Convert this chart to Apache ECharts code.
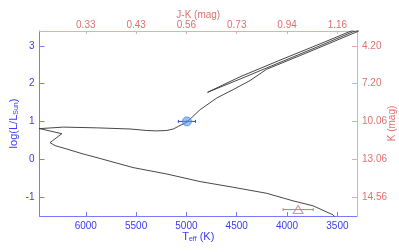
<!DOCTYPE html>
<html>
<head>
<meta charset="utf-8">
<script src="https://cdn.jsdelivr.net/npm/echarts@6/dist/echarts.min.js"></script>
<style>html,body{margin:0;padding:0;background:#fff}#c{width:399px;height:252px}</style>
</head>
<body>
<div id="c"></div>
<script>
// ---- data ----
const tempTicks = [3500, 4000, 4500, 5000, 5500, 6000];
const jkLabels = ['1.16', '0.94', '0.73', '0.56', '0.43', '0.33'];
const lumTicks = [-1, 0, 1, 2, 3];
const kLabels = ['14.56', '13.06', '10.06', '7.20', '4.20'];

const trackT = [3510, 3543, 3742, 3940, 4202, 4536, 4864, 5195, 5530, 5858, 6027, 6189, 6305, 6355, 6238, 6454, 6480,
  6454, 6223, 5891, 5560, 5394, 5300, 5195, 5130, 5080, 4996,
  4864, 4698, 4536, 4368, 4202, 3871, 3573, 3305, 3250,
  3354, 3672, 4070, 4467, 4790, 4800, 4790, 4467, 4070, 3672, 3354, 3250];
const trackL = [-1.56, -1.47, -1.23, -1.10, -0.90, -0.74, -0.59, -0.39, -0.22, 0.02, 0.14, 0.27, 0.36, 0.44, 0.675, 0.807, 0.815,
  0.81, 0.85, 0.83, 0.80, 0.76, 0.75, 0.76, 0.80, 0.87, 0.98,
  1.31, 1.62, 1.84, 2.08, 2.38, 2.74, 3.07, 3.37, 3.45,
  3.36, 3.00, 2.56, 2.12, 1.77, 1.785, 1.80, 2.18, 2.62, 3.05, 3.40, 3.52];

const obsT = [4995];
const obsL = [1.0];
const obsTerr = [85];
const obsLerr = [0.03];

const kT = [3890];
const kL = [-1.33];
const kTerr = [150];

// ---- styles ----
const BLUE = '#3a3af2';
const BLUE_LINE = '#7a7aff';
const RED = '#e07070';
const RED_LINE = '#f0a8a8';
const FONT = 'Liberation Sans, Arial, sans-serif';

const track = trackT.map((t, i) => [t, trackL[i]]);
const obs = obsT.map((t, i) => [t, obsL[i], obsTerr[i], obsLerr[i]]);
const kObs = kT.map((t, i) => [t, kL[i], kTerr[i], 0]);

function errRender(color) {
  return function (params, api) {
    const t = api.value(0), l = api.value(1), e = api.value(2), el = api.value(3);
    const a = api.coord([t - e, l]), b = api.coord([t + e, l]);
    const st = { stroke: color, lineWidth: 1 };
    const ch = [
      { type: 'line', shape: { x1: a[0], y1: a[1], x2: b[0], y2: b[1] }, style: st },
      { type: 'line', shape: { x1: a[0], y1: a[1] - 1.5, x2: a[0], y2: a[1] + 1.5 }, style: st },
      { type: 'line', shape: { x1: b[0], y1: b[1] - 1.5, x2: b[0], y2: b[1] + 1.5 }, style: st }
    ];
    if (el > 0) {
      const c = api.coord([t, l - el]), d = api.coord([t, l + el]);
      ch.push({ type: 'line', shape: { x1: c[0], y1: c[1], x2: d[0], y2: d[1] }, style: st });
    }
    return { type: 'group', children: ch };
  };
}

const chart = echarts.init(document.getElementById('c'), null, { renderer: 'canvas' });
chart.setOption({
  animation: false,
  backgroundColor: '#fff',
  textStyle: { fontFamily: FONT },
  grid: { left: 39.5, right: 42, top: 31, bottom: 36, containLabel: false, outerBoundsMode: 'none' },
  xAxis: [
    {
      type: 'value', position: 'bottom', inverse: true, min: 3305, max: 6460,
      axisLine: { onZero: false, lineStyle: { color: BLUE_LINE, width: 1 } },
      axisTick: { inside: true, length: 4, customValues: tempTicks, lineStyle: { color: BLUE_LINE } },
      axisLabel: { customValues: tempTicks, color: BLUE, fontSize: 10, margin: 5, fontFamily: FONT,
        formatter: v => String(v) },
      splitLine: { show: false },
      name: '{a|T}{s|eff}{a| (K)}', nameLocation: 'middle', nameGap: 14, nameMoveOverlap: false,
      nameTextStyle: { color: BLUE, fontFamily: FONT, rich: {
        a: { fontSize: 11, color: BLUE, fontFamily: FONT, lineHeight: 13 },
        s: { fontSize: 7, color: BLUE, fontFamily: FONT, verticalAlign: 'bottom', lineHeight: 13, padding: [4, 0, 0, 0] }
      } }
    },
    {
      type: 'value', position: 'top', inverse: true, min: 3305, max: 6460,
      axisLine: { onZero: false, lineStyle: { color: RED_LINE, width: 1 } },
      axisTick: { inside: true, length: 3, customValues: tempTicks, lineStyle: { color: RED_LINE } },
      axisLabel: { customValues: tempTicks, color: RED, fontSize: 10, margin: 1, fontFamily: FONT,
        formatter: v => jkLabels[tempTicks.indexOf(v)] },
      splitLine: { show: false },
      name: 'J-K (mag)', nameLocation: 'middle', nameGap: 11, nameMoveOverlap: false,
      nameTextStyle: { color: RED, fontSize: 10, fontFamily: FONT }
    }
  ],
  yAxis: [
    {
      type: 'value', position: 'left', min: -1.5, max: 3.39,
      axisLine: { show: true, onZero: false, lineStyle: { color: BLUE_LINE, width: 1 } },
      axisTick: { show: true, inside: true, length: 5, customValues: lumTicks, lineStyle: { color: BLUE_LINE } },
      axisLabel: { customValues: lumTicks, color: BLUE, fontSize: 10, margin: 5, fontFamily: FONT,
        formatter: v => String(v) },
      splitLine: { show: false },
      name: 'log(L/L{s|Sun})', nameLocation: 'middle', nameGap: 20, nameRotate: 90, nameMoveOverlap: false,
      nameTextStyle: { color: BLUE, fontSize: 11, fontFamily: FONT, rich: {
        s: { fontSize: 7, color: BLUE, fontFamily: FONT, verticalAlign: 'bottom', padding: [4, 0, 0, 0] }
      } }
    },
    {
      type: 'value', position: 'right', min: -1.5, max: 3.39,
      axisLine: { show: true, onZero: false, lineStyle: { color: RED_LINE, width: 1 } },
      axisTick: { show: true, inside: true, length: 5, customValues: lumTicks, lineStyle: { color: RED_LINE } },
      axisLabel: { customValues: lumTicks, color: RED, fontSize: 10, margin: 5, fontFamily: FONT,
        formatter: v => kLabels[lumTicks.indexOf(v)] },
      splitLine: { show: false },
      name: 'K (mag)', nameLocation: 'middle', nameGap: 30, nameRotate: 90, nameMoveOverlap: false,
      nameTextStyle: { color: RED, fontSize: 10, fontFamily: FONT }
    }
  ],
  series: [
    {
      type: 'line', data: track, xAxisIndex: 0, yAxisIndex: 0, showSymbol: false, symbol: 'none',
      clip: true, lineStyle: { color: '#333', width: 0.9 }, z: 2, silent: true
    },
    {
      type: 'custom', data: obs, xAxisIndex: 0, yAxisIndex: 0, renderItem: errRender(BLUE), z: 3, clip: false,
      encode: { x: 0, y: 1 }
    },
    {
      type: 'scatter', data: obs.map(d => [d[0], d[1]]), xAxisIndex: 0, yAxisIndex: 0, symbol: 'circle', symbolSize: 9,
      itemStyle: { color: 'rgba(90,150,245,0.75)', borderColor: '#3b6fe6', borderWidth: 0.8 }, z: 4
    },
    {
      type: 'custom', data: kObs, xAxisIndex: 0, yAxisIndex: 0, renderItem: errRender(RED), z: 3, clip: false,
      encode: { x: 0, y: 1 }
    },
    {
      type: 'scatter', data: kObs.map(d => [d[0], d[1]]), xAxisIndex: 0, yAxisIndex: 0, symbol: 'triangle', symbolSize: [10, 8],
      itemStyle: { color: 'rgba(255,255,255,0)', borderColor: RED, borderWidth: 1 }, z: 4
    }
  ]
});
</script>
</body>
</html>
